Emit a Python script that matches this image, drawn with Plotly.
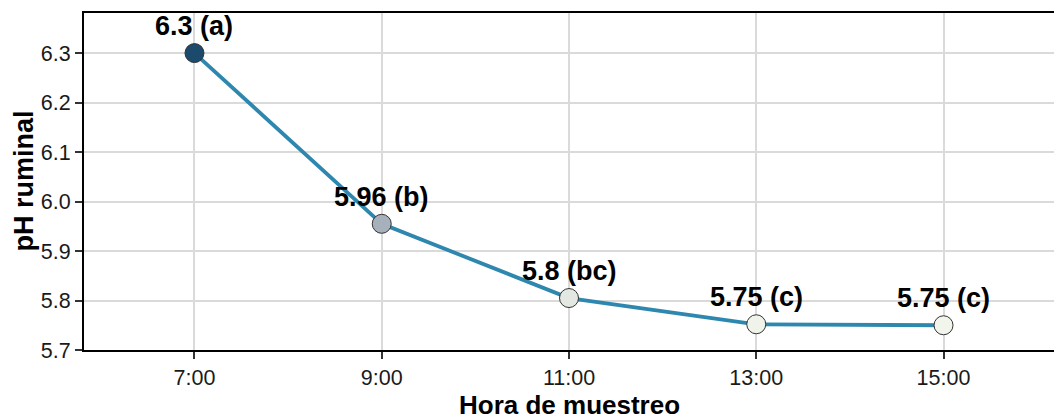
import plotly.graph_objects as go

# datos
horas = [7, 9, 11, 13, 15]
hora_labels = ['7:00', '9:00', '11:00', '13:00', '15:00']
ph = [6.30, 5.955, 5.805, 5.752, 5.750]
etiquetas = ['6.3 (a)', '5.96 (b)', '5.8 (bc)', '5.75 (c)', '5.75 (c)']
colores = ['#1b4a6d', '#a6b1bc', '#e3e8e2', '#f0f3e9', '#f2f5eb']

fuente = 'Liberation Sans, Arial'

fig = go.Figure()

fig.add_trace(go.Scatter(
    x=horas, y=ph,
    mode='lines',
    line=dict(color='#2e87ae', width=3.8),
    hoverinfo='skip',
    showlegend=False))

fig.add_trace(go.Scatter(
    x=horas, y=ph,
    mode='markers',
    marker=dict(size=19, color=colores, line=dict(color='#333333', width=1)),
    showlegend=False))

# etiquetas sobre los puntos
for h, v, t in zip(horas, ph, etiquetas):
    fig.add_annotation(x=h, y=v, text='<b>' + t + '</b>', showarrow=False,
                       yanchor='middle', yshift=27,
                       font=dict(family=fuente, size=27, color='#000000'))

# titulos de ejes como anotaciones para fijar su posicion
fig.add_annotation(xref='paper', yref='paper', x=0.5, y=0, yanchor='middle',
                   yshift=-54, showarrow=False, text='<b>Hora de muestreo</b>',
                   height=25, valign='middle', borderpad=0,
                   font=dict(family=fuente, size=26, color='#000000'))
fig.add_annotation(xref='paper', yref='paper', x=0, y=0.5, xanchor='center',
                   xshift=-61, showarrow=False, textangle=-90, text='<b>pH ruminal</b>',
                   font=dict(family=fuente, size=27, color='#000000'))

fig.update_layout(
    width=1054, height=417,
    margin=dict(l=84, r=0, t=13, b=67, autoexpand=False),
    plot_bgcolor='white', paper_bgcolor='white',
    font=dict(family=fuente, size=21.5, color='#1a1a1a'),
)

fig.update_xaxes(
    range=[5.82, 16.18], automargin=False,
    tickmode='array', tickvals=horas, ticktext=hora_labels,
    showgrid=True, gridcolor='#dadada', gridwidth=1.5,
    showline=True, linecolor='#000000', linewidth=2, mirror=True,
    ticks='outside', ticklen=7, tickcolor='#333333', tickwidth=1.5,
    zeroline=False,
)

fig.update_yaxes(
    range=[5.7, 6.381], automargin=False,
    tickvals=[5.7, 5.8, 5.9, 6.0, 6.1, 6.2, 6.3],
    ticktext=['5.7', '5.8', '5.9', '6.0', '6.1', '6.2', '6.3'],
    showgrid=True, gridcolor='#dadada', gridwidth=1.5,
    showline=True, linecolor='#000000', linewidth=2,
    ticks='outside', ticklen=7, tickcolor='#333333', tickwidth=1.5,
    zeroline=False,
)

# sin margen del body para que la figura llene la ventana
fig.write_html('out.html', config={'displayModeBar': False},
               post_script="document.body.style.margin='0';")
